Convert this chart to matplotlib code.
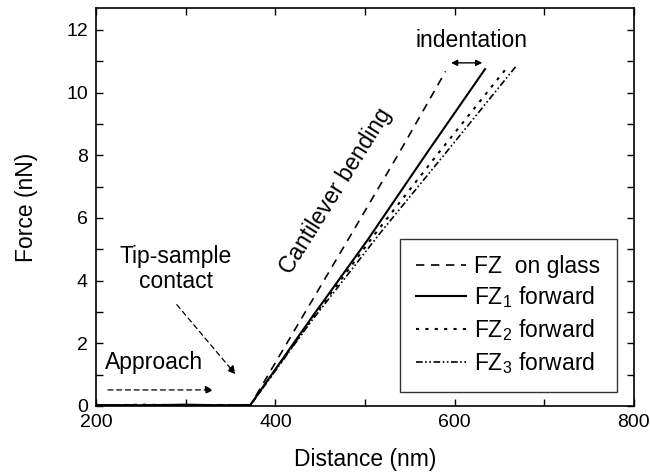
import matplotlib
matplotlib.use("Agg")
import matplotlib.pyplot as plt
from matplotlib.ticker import MultipleLocator

plt.rcParams['font.family'] = ['Liberation Sans', 'DejaVu Sans']
plt.rcParams['mathtext.fontset'] = 'custom'
plt.rcParams['mathtext.rm'] = 'Liberation Sans'
plt.rcParams['mathtext.it'] = 'Liberation Sans'

# curves: distance (nm), force (nN)
glass_x = [200, 250, 300, 340, 372, 420, 481, 538, 590]
glass_y = [0.02, 0.03, 0.01, 0.03, 0.02, 2.35, 5.30, 8.07, 10.68]

fz1_x = [200, 250, 300, 340, 372, 440, 503, 569, 634]
fz1_y = [0.03, 0.02, 0.04, 0.02, 0.03, 2.8, 5.30, 8.07, 10.75]

fz2_x = [200, 250, 300, 340, 372, 440, 512, 582, 658]
fz2_y = [0.01, 0.04, 0.02, 0.03, 0.02, 2.75, 5.52, 8.07, 10.78]

fz3_x = [200, 250, 300, 340, 372, 440, 517, 590, 668]
fz3_y = [0.02, 0.01, 0.03, 0.02, 0.02, 2.7, 5.52, 8.07, 10.82]

labels = ['FZ  on glass', r'FZ$_1$ forward', r'FZ$_2$ forward', r'FZ$_3$ forward']

fig = plt.figure(figsize=(6.5, 4.72), dpi=100)
ax = fig.add_axes([0.148, 0.14, 0.827, 0.843])

ax.plot(glass_x, glass_y, color='k', lw=1.2, ls=(0, (5, 4)), label=labels[0])
ax.plot(fz1_x, fz1_y, color='k', lw=1.5, ls='-', label=labels[1])
ax.plot(fz2_x, fz2_y, color='k', lw=1.5, ls=(0, (1.5, 3)), label=labels[2])
ax.plot(fz3_x, fz3_y, color='k', lw=1.2, ls=(0, (4, 1.5, 1, 1.5, 1, 1.5)), label=labels[3])

ax.set_xlim(200, 800)
ax.set_ylim(0, 12.7)
ax.xaxis.set_major_locator(MultipleLocator(200))
ax.xaxis.set_minor_locator(MultipleLocator(100))
ax.yaxis.set_major_locator(MultipleLocator(2))
ax.yaxis.set_minor_locator(MultipleLocator(1))
ax.tick_params(which='both', direction='in', top=True, right=True, length=5, width=1, labelsize=14)
ax.tick_params(axis='x', pad=6)
ax.tick_params(axis='y', pad=6)
for s in ax.spines.values():
    s.set_linewidth(1.2)

ax.set_xlabel('Distance (nm)', fontsize=16.5, labelpad=12)
ax.set_ylabel('Force (nN)', fontsize=16.5, labelpad=20)

# annotations
ax.annotate('', xy=(334, 0.51), xytext=(210, 0.51),
            arrowprops=dict(arrowstyle='-|>', ls=(0, (4, 3)), lw=0.9, color='k',
                            mutation_scale=12))
ax.text(210, 1.4, 'Approach', fontsize=16.5, ha='left', va='center')

ax.annotate('', xy=(357.5, 0.94), xytext=(288, 3.3),
            arrowprops=dict(arrowstyle='-|>', ls=(0, (4, 3)), lw=0.9, color='k',
                            mutation_scale=12))
ax.text(289, 4.38, 'Tip-sample\ncontact', fontsize=16.5, ha='center', va='center',
        linespacing=1.1)

ax.text(467, 6.85, 'Cantilever bending', fontsize=16.5, rotation=58,
        ha='center', va='center', rotation_mode='anchor')

ax.annotate('', xy=(634, 10.95), xytext=(593, 10.95),
            arrowprops=dict(arrowstyle='<|-|>', lw=1, color='k', mutation_scale=9))
ax.text(619, 11.67, 'indentation', fontsize=16.5, ha='center', va='center')

leg = ax.legend(loc='lower right', bbox_to_anchor=(0.968, 0.035), fontsize=16.5,
                frameon=True, fancybox=False, edgecolor='k', handlelength=2.2,
                handletextpad=0.35, borderpad=0.7, labelspacing=0.3,
                borderaxespad=0)
leg.get_frame().set_linewidth(1)

fig.savefig('out.png', dpi=100)
